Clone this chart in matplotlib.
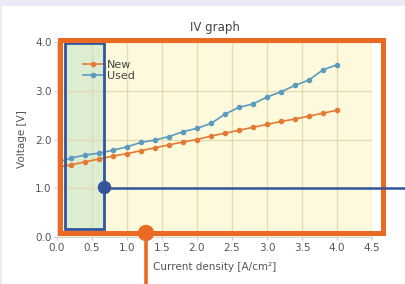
import numpy as np
import matplotlib.pyplot as plt
from matplotlib.patches import Rectangle, Circle
from matplotlib.lines import Line2D
from matplotlib.transforms import Affine2D

# data
current = [0.0, 0.2, 0.4, 0.6, 0.8, 1.0, 1.2, 1.4, 1.6, 1.8, 2.0,
           2.2, 2.4, 2.6, 2.8, 3.0, 3.2, 3.4, 3.6, 3.8, 4.0]
v_new = [1.43, 1.48, 1.54, 1.60, 1.66, 1.71, 1.77, 1.83, 1.89, 1.95, 2.00,
         2.07, 2.13, 2.19, 2.25, 2.31, 2.37, 2.42, 2.48, 2.54, 2.60]
v_used = [1.53, 1.62, 1.68, 1.72, 1.78, 1.85, 1.94, 1.99, 2.06, 2.16, 2.23,
          2.33, 2.52, 2.66, 2.73, 2.87, 2.98, 3.11, 3.22, 3.43, 3.53]
xticks = [0.0, 0.5, 1.0, 1.5, 2.0, 2.5, 3.0, 3.5, 4.0, 4.5]
yticks = [0.0, 1.0, 2.0, 3.0, 4.0]

W, H = 406, 284
fig = plt.figure(figsize=(W / 100, H / 100), dpi=100, facecolor='#ecebf5')
# pixel coords, origin top-left
px = Affine2D().scale(1, -1).translate(0, H)
fig.patches.append(Rectangle((2, 6), W, H, transform=px, facecolor='white',
                             edgecolor='none', zorder=-5))

ax = fig.add_axes([57 / W, 1 - 237 / H, (372 - 57) / W, (237 - 42) / H])
ax.set_facecolor('#fdf9dc')
ax.plot(current, v_new, color='#e37b35', marker='o', markersize=3, lw=1.2, label='New')
ax.plot(current, v_used, color='#5b9bbd', marker='o', markersize=3, lw=1.2, label='Used')
ax.set_xlim(0, 4.5)
ax.set_ylim(0, 4.0)
ax.set_xticks(xticks)
ax.set_yticks(yticks)
ax.set_xticklabels([f'{t:.1f}' for t in xticks])
ax.set_yticklabels([f'{t:.1f}' for t in yticks])
ax.grid(True, color='#e2dbb4', lw=1)
ax.set_axisbelow(True)
for s in ['top', 'right']:
    ax.spines[s].set_visible(False)
for s in ['left', 'bottom']:
    ax.spines[s].set_color('#d8d8d8')
ax.tick_params(labelsize=7.5, colors='#555555', length=2, color='#cccccc', pad=2)
ax.set_title('IV graph', fontsize=8.5, color='#444444', pad=8)
ax.set_xlabel('Current density [A/cm²]', fontsize=7.5, color='#555555', labelpad=7)
ax.set_ylabel('Voltage [V]', fontsize=7.5, color='#555555', labelpad=6)
leg = ax.legend(loc='upper left', bbox_to_anchor=(0.07, 0.93), frameon=False,
                fontsize=8, handlelength=1.8, handletextpad=0.3,
                labelspacing=0.1, borderaxespad=0)
for t in leg.get_texts():
    t.set_color('#444444')

# annotation overlay
blue = '#34559b'
orange = '#ea6a24'
ax.add_patch(Rectangle((65, 43), 39, 186, transform=px, facecolor='#cfe8cf',
                       alpha=0.7, edgecolor='none', zorder=0.3, clip_on=False))
fig.patches.append(Rectangle((65, 43), 39, 186, transform=px, facecolor='none',
                             edgecolor=blue, lw=2, zorder=5))
fig.patches.append(Rectangle((60, 39.5), 322.5, 193, transform=px, facecolor='none',
                             edgecolor=orange, lw=3.6, zorder=5))
fig.lines.append(Line2D([104.5, 406], [187.5, 187.5], transform=px, color=blue,
                        lw=1.8, zorder=6))
fig.patches.append(Circle((104.5, 187.5), 6, transform=px, color=blue, zorder=7))
fig.lines.append(Line2D([146, 146], [233, 284], transform=px, color=orange,
                        lw=2.6, zorder=6))
fig.patches.append(Circle((146, 233), 7.5, transform=px, color=orange, zorder=7))

fig.savefig('out.png', dpi=100, facecolor=fig.get_facecolor())
